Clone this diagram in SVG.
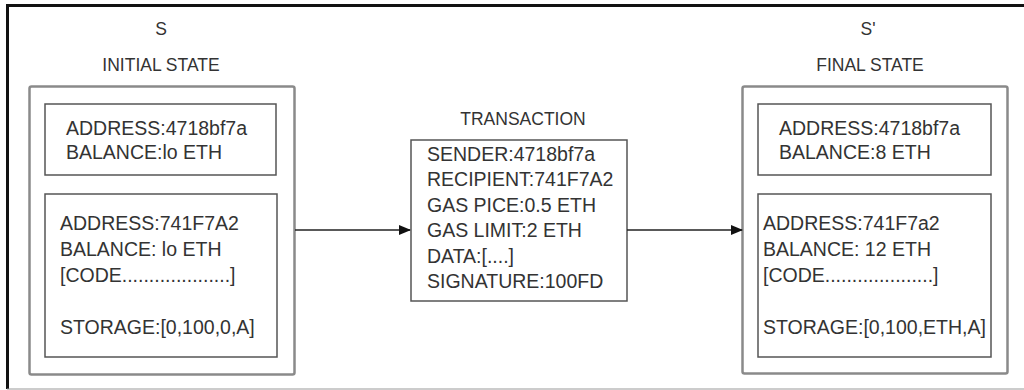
<svg xmlns="http://www.w3.org/2000/svg" width="1024" height="390" viewBox="0 0 1024 390">
<defs>
<style>
.t{font-family:"Liberation Sans",Arial,sans-serif;font-size:19.5px;fill:#333}
.h{font-family:"Liberation Sans",Arial,sans-serif;font-size:17.5px;fill:#333;text-anchor:middle}
.outer{fill:#fff;stroke:#8a8a8a;stroke-width:2.5}
.inner{fill:#fff;stroke:#555;stroke-width:1.5}
.conn{stroke:#222;stroke-width:1.3;fill:none}
</style>
<marker id="arr" markerWidth="12" markerHeight="10" refX="11" refY="5" orient="auto" markerUnits="userSpaceOnUse">
<path d="M0,0 L12,5 L0,10 Z" fill="#111"/>
</marker>
</defs>
<rect width="1024" height="390" fill="#fff"/>
<g id="frame">
<line x1="7" y1="5.5" x2="1024" y2="5.5" stroke="#111" stroke-width="3"/>
<line x1="7.5" y1="4" x2="7.5" y2="389" stroke="#111" stroke-width="3"/>
<line x1="7" y1="389" x2="1024" y2="389" stroke="#999" stroke-width="1.2"/>
</g>
<g id="initial-state">
<text class="h" x="161" y="35">S</text>
<text class="h" x="161" y="71">INITIAL STATE</text>
<rect class="outer" x="29.5" y="86.5" width="265" height="288" rx="2"/>
<g id="initial-account-1">
<rect class="inner" x="45" y="104" width="231" height="71"/>
<text class="t" x="66" y="135">ADDRESS:4718bf7a</text>
<text class="t" x="66" y="159">BALANCE:lo ETH</text>
</g>
<g id="initial-account-2">
<rect class="inner" x="45" y="194" width="232" height="163"/>
<text class="t" x="60" y="230">ADDRESS:741F7A2</text>
<text class="t" x="60" y="256">BALANCE: lo ETH</text>
<text class="t" x="60" y="282">[CODE....................]</text>
<text class="t" x="60" y="334">STORAGE:[0,100,0,A]</text>
</g>
</g>
<g id="transaction">
<text class="h" x="523" y="125">TRANSACTION</text>
<rect class="inner" x="411" y="140" width="216" height="161"/>
<text class="t" x="427" y="161">SENDER:4718bf7a</text>
<text class="t" x="427" y="186">RECIPIENT:741F7A2</text>
<text class="t" x="427" y="212">GAS PICE:0.5 ETH</text>
<text class="t" x="427" y="237">GAS LIMIT:2 ETH</text>
<text class="t" x="427" y="263">DATA:[....]</text>
<text class="t" x="427" y="288">SIGNATURE:100FD</text>
</g>
<g id="final-state">
<text class="h" x="868" y="35">S'</text>
<text class="h" x="870" y="71">FINAL STATE</text>
<rect class="outer" x="742.5" y="86.5" width="265" height="287" rx="2"/>
<g id="final-account-1">
<rect class="inner" x="758" y="104" width="233" height="71"/>
<text class="t" x="779" y="135">ADDRESS:4718bf7a</text>
<text class="t" x="779" y="159">BALANCE:8 ETH</text>
</g>
<g id="final-account-2">
<rect class="inner" x="758" y="194" width="233" height="163"/>
<text class="t" x="763" y="230">ADDRESS:741F7a2</text>
<text class="t" x="763" y="256">BALANCE: 12 ETH</text>
<text class="t" x="763" y="282">[CODE....................]</text>
<text class="t" x="763" y="334">STORAGE:[0,100,ETH,A]</text>
</g>
</g>
<g id="connectors">
<line class="conn" x1="295" y1="230" x2="410" y2="230" marker-end="url(#arr)"/>
<line class="conn" x1="627" y1="230" x2="742" y2="230" marker-end="url(#arr)"/>
</g>
</svg>
